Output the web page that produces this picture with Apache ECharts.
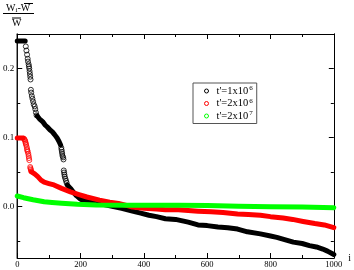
<!DOCTYPE html>
<html><head><meta charset="utf-8">
<script src="https://cdn.jsdelivr.net/npm/echarts@6/dist/echarts.min.js"></script>
<style>html,body{margin:0;padding:0;background:#fff}#c{width:354px;height:270px}</style>
</head><body><div id="c"></div>
<script>
// ---- data ----
const seriesNames = ["t'=1x10^6", "t'=2x10^6", "t'=2x10^7"];
const legendBase = ["t'=1x10", "t'=2x10", "t'=2x10"];
const legendExp = ["6", "6", "7"];
const xTickLabels = [0, 200, 400, 600, 800, 1000];
const yMajorTicks = [0, 0.1, 0.2];
const yMinorTicks = [-0.05, 0.05, 0.15];

// t'=1x10^6 (black)
const blackBandA = [[0,0.240],[25,0.240]];
const blackDotsA = [[27,0.232],[29,0.226],[31,0.220],[33,0.214],[34,0.210],[36,0.206],[37,0.203],[38,0.200],[39,0.196],[40,0.192],[41,0.188],[42,0.184],
  [43,0.169],[44,0.165],[46,0.160],[48,0.156],[50,0.152],[52,0.148],[55,0.145],[57,0.141],[59,0.136],[61,0.132]];
const blackBandB = [[63,0.131],[70,0.127],[80,0.123],[88,0.118],[95,0.115],[103,0.111],[111,0.108],[118,0.104],[126,0.099],[132,0.094],[137,0.089]];
const blackDotsB = [[139,0.085],[140,0.082],[141,0.079],[142,0.076],[143,0.073],[145,0.071],[146,0.068],
  [147,0.052],[148,0.049],[149,0.046],[150,0.043],[152,0.040],[154,0.037],[156,0.034]];
const blackBandC = [[158,0.031],[168,0.026],[178,0.020],[188,0.015],[198,0.011],[210,0.008],[240,0.005],[270,0.003],[300,0.000],[330,-0.003],
  [364,-0.007],[390,-0.010],[416,-0.013],[440,-0.015],[468,-0.018],[500,-0.019],[540,-0.023],[571,-0.027],[600,-0.028],[634,-0.030],
  [665,-0.031],[696,-0.033],[727,-0.037],[768,-0.040],[800,-0.043],[820,-0.045],[850,-0.049],[872,-0.052],[900,-0.054],[923,-0.057],
  [945,-0.059],[965,-0.062],[980,-0.065],[1000,-0.070]];

// t'=2x10^6 (red)
const redBandA = [[0,0.099],[19,0.099]];
const redDots = [[21,0.098],[23,0.097],[25,0.095],[26,0.093],[27,0.091],[28,0.089],[30,0.086],[31,0.083],[32,0.081],[33,0.079],[35,0.076],[36,0.073],[37,0.070],[38,0.067],
  [41,0.057],[42,0.055],[43,0.053],[44,0.051]];
const redBandB = [[45,0.050],[55,0.047],[65,0.043],[75,0.038],[85,0.035],[100,0.033],[116,0.031],[140,0.026],[168,0.021],[195,0.017],[220,0.0135],
  [260,0.009],[292,0.006],[320,0.004],[348,0.001],[364,-0.001],[400,-0.003],[440,-0.004],[468,-0.005],[509,-0.005],[540,-0.006],[571,-0.007],
  [612,-0.008],[650,-0.009],[696,-0.011],[730,-0.012],[768,-0.013],[800,-0.015],[840,-0.017],[870,-0.019],[903,-0.022],[940,-0.025],[970,-0.027],[1000,-0.031]];

// t'=2x10^7 (green)
const greenBand = [[0,0.015],[20,0.0125],[50,0.0095],[85,0.0065],[110,0.0055],[140,0.0045],[190,0.003],[250,0.002],[345,0.0015],[450,0.0015],
  [509,0.0015],[600,0.001],[700,0.0],[800,-0.0005],[900,-0.001],[1000,-0.002]];

const colors = ['#000000', '#ff0000', '#00ff00'];

// ---- chart ----
const FONT = 'Liberation Serif';
const chart = echarts.init(document.getElementById('c'), null, {renderer: 'canvas'});

function band(name, data, color) {
  return {type: 'line', name, data, showSymbol: false, symbol: 'none', smooth: false,
    lineStyle: {color, width: 5, cap: 'round', join: 'round'}, itemStyle: {color}, silent: true, animation: false};
}
function dots(name, data, color) {
  return {type: 'scatter', name, data, symbol: 'circle', symbolSize: 5,
    itemStyle: {color: 'transparent', borderColor: color, borderWidth: 1}, silent: true, animation: false};
}

const axisLine = {show: true, onZero: false, lineStyle: {color: '#000', width: 1}};
const xCommon = {type: 'value', min: 0, max: 1000, interval: 200, axisLine,
  axisTick: {show: true, inside: true, length: 5, lineStyle: {color: '#000'}},
  minorTick: {show: true, splitNumber: 2, length: 3, lineStyle: {color: '#000'}},
  splitLine: {show: false}, minorSplitLine: {show: false}};
const yCommon = {type: 'value', min: -0.075, max: 0.25, axisLine, splitLine: {show: false}};

chart.setOption({
  animation: false,
  grid: {left: 16, right: 16, top: 34, bottom: 12, containLabel: false},
  xAxis: [
    Object.assign({}, xCommon, {position: 'bottom', name: 'i', nameLocation: 'end', nameGap: 13,
      nameTextStyle: {fontFamily: FONT, fontSize: 10, color: '#000', verticalAlign: 'middle', padding: [0,0,6,0]},
      axisLabel: {show: true, fontFamily: FONT, fontSize: 8.5, color: '#000', margin: 2,
        customValues: xTickLabels, formatter: v => String(v)}}),
    Object.assign({}, xCommon, {position: 'top', axisLabel: {show: false}})
  ],
  yAxis: [
    Object.assign({}, yCommon, {position: 'left',
      axisTick: {show: true, inside: true, length: 5, customValues: yMajorTicks, lineStyle: {color: '#000'}},
      axisLabel: {show: true, customValues: yMajorTicks, formatter: v => v.toFixed(1),
        fontFamily: FONT, fontSize: 9, color: '#000', margin: 3}}),
    Object.assign({}, yCommon, {position: 'left',
      axisTick: {show: true, inside: true, length: 3, customValues: yMinorTicks, lineStyle: {color: '#000'}},
      axisLabel: {show: false}}),
    Object.assign({}, yCommon, {position: 'right',
      axisTick: {show: true, inside: true, length: 5, customValues: yMajorTicks, lineStyle: {color: '#000'}},
      axisLabel: {show: false}}),
    Object.assign({}, yCommon, {position: 'right',
      axisTick: {show: true, inside: true, length: 3, customValues: yMinorTicks, lineStyle: {color: '#000'}},
      axisLabel: {show: false}})
  ],
  legend: {
    show: true, orient: 'vertical', left: 193, top: 83,
    borderColor: '#555', borderWidth: 1, padding: [2, 4, 2, 11], itemGap: 1,
    itemWidth: 4, itemHeight: 4,
    data: seriesNames.map((n, k) => ({name: n, icon: 'circle',
      itemStyle: {color: 'transparent', borderColor: colors[k], borderWidth: 1}})),
    formatter: name => {
      const k = seriesNames.indexOf(name);
      return legendBase[k] + '{sup|' + legendExp[k] + '}';
    },
    textStyle: {fontFamily: FONT, fontSize: 10.5, color: '#000', padding: [0, 0, 0, 3],
      rich: {sup: {fontFamily: FONT, fontSize: 7, color: '#000', verticalAlign: 'top', padding: [0, 0, 5, 1]}}}
  },
  graphic: [
    {type: 'text', x: 6, y: 3, style: {text: 'W{sub|i}-W', fontFamily: FONT, fontSize: 10, fill: '#000', verticalAlign: 'top',
      rich: {sub: {fontFamily: FONT, fontSize: 7, fill: '#000', padding: [4, 0, 0, 0]}}}},
    {type: 'line', shape: {x1: 24, y1: 3.5, x2: 33, y2: 3.5}, style: {stroke: '#000', lineWidth: 1}},
    {type: 'line', shape: {x1: 3, y1: 13.5, x2: 34, y2: 13.5}, style: {stroke: '#000', lineWidth: 1}},
    {type: 'text', x: 12, y: 18, style: {text: 'W', fontFamily: FONT, fontSize: 10, fill: '#000', verticalAlign: 'top'}},
    {type: 'line', shape: {x1: 12, y1: 18, x2: 21, y2: 18}, style: {stroke: '#000', lineWidth: 1}}
  ],
  series: [
    band(seriesNames[0], blackBandA, colors[0]),
    dots(seriesNames[0], blackDotsA, colors[0]),
    band(seriesNames[0], blackBandB, colors[0]),
    dots(seriesNames[0], blackDotsB, colors[0]),
    band(seriesNames[0], blackBandC, colors[0]),
    band(seriesNames[1], redBandA, colors[1]),
    dots(seriesNames[1], redDots, colors[1]),
    band(seriesNames[1], redBandB, colors[1]),
    band(seriesNames[2], greenBand, colors[2])
  ]
});
</script></body></html>
